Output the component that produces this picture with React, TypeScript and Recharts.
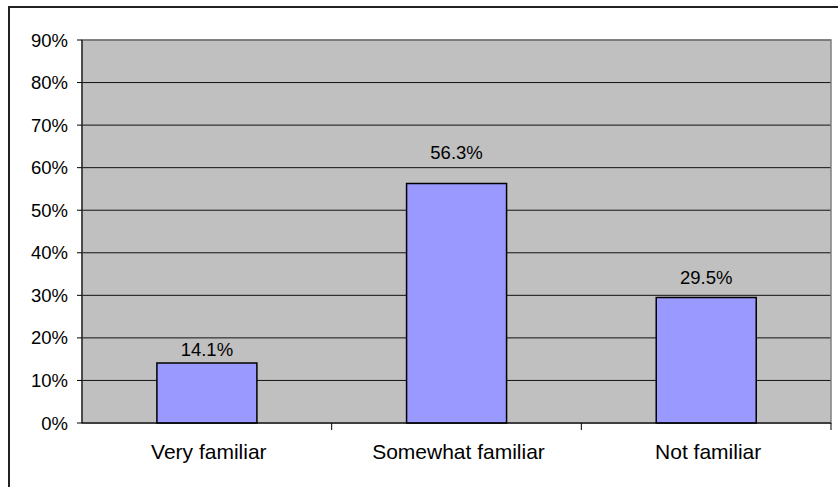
import React from 'react';
import { BarChart, Bar, XAxis, YAxis, CartesianGrid, LabelList, ReferenceArea } from 'recharts';

const categories = ['Very familiar', 'Somewhat familiar', 'Not familiar'];
const shares = [14.1, 56.3, 29.5];
const yTicks = [0, 10, 20, 30, 40, 50, 60, 70, 80, 90];

const data = categories.map((name, i) => ({ name, share: shares[i] }));

const FONT = '"Liberation Sans", Arial, sans-serif';

function CategoryTick(props: any) {
  const { x, y, payload, width, visibleTicksCount } = props;
  const half = width && visibleTicksCount ? width / visibleTicksCount / 2 : 0;
  return (
    <g>
      <line x1={x + half} y1={y} x2={x + half} y2={y + 7} stroke="#000" />
      <text x={x + 2} y={y + 36} textAnchor="middle" fontSize={21} fill="#000" fontFamily={FONT}>
        {payload.value}
      </text>
    </g>
  );
}

function ValueLabel(props: any) {
  const { x, y, width, height, value } = props;
  // Excel placed these a little higher the taller the bar is
  const lift = 1.5 + 0.094 * height;
  return (
    <text x={x + width / 2} y={y - lift} textAnchor="middle" fontSize={18.5} fill="#000" fontFamily={FONT}>
      {`${value.toFixed(1)}%`}
    </text>
  );
}

export default function App() {
  return (
    <div style={{ position: 'absolute', left: 0, top: 0, width: 838, height: 487, overflow: 'hidden', background: '#fff' }}>
      <div
        style={{
          position: 'absolute',
          left: 8,
          top: 6,
          width: 900,
          height: 600,
          border: '2px solid #222',
        }}
      />
      <div style={{ position: 'absolute', left: 0, top: 0 }}>
        <BarChart
          width={838}
          height={487}
          data={data}
          margin={{ top: 40, right: 7, bottom: 0, left: 0 }}
          barCategoryGap="30%"
        >
          <CartesianGrid vertical={false} fill="#C0C0C0" stroke="#111" />
          <ReferenceArea y1={0} y2={90} fill="none" stroke="#808080" strokeWidth={1.5} />
          <XAxis
            dataKey="name"
            height={64}
            tickLine={false}
            tickSize={0}
            tickMargin={0}
            axisLine={{ stroke: '#000' }}
            tick={<CategoryTick />}
            interval={0}
          />
          <YAxis
            width={82}
            domain={[0, 90]}
            ticks={yTicks}
            interval={0}
            tickFormatter={(v: number) => `${v}%`}
            tickSize={5}
            tickMargin={9}
            axisLine={{ stroke: '#000' }}
            tickLine={{ stroke: '#000' }}
            tick={{ fontSize: 18.5, fill: '#000', fontFamily: FONT }}
          />
          <Bar dataKey="share" fill="#9999FF" stroke="#000" strokeWidth={1.5} isAnimationActive={false}>
            <LabelList dataKey="share" content={<ValueLabel />} />
          </Bar>
        </BarChart>
      </div>
    </div>
  );
}
